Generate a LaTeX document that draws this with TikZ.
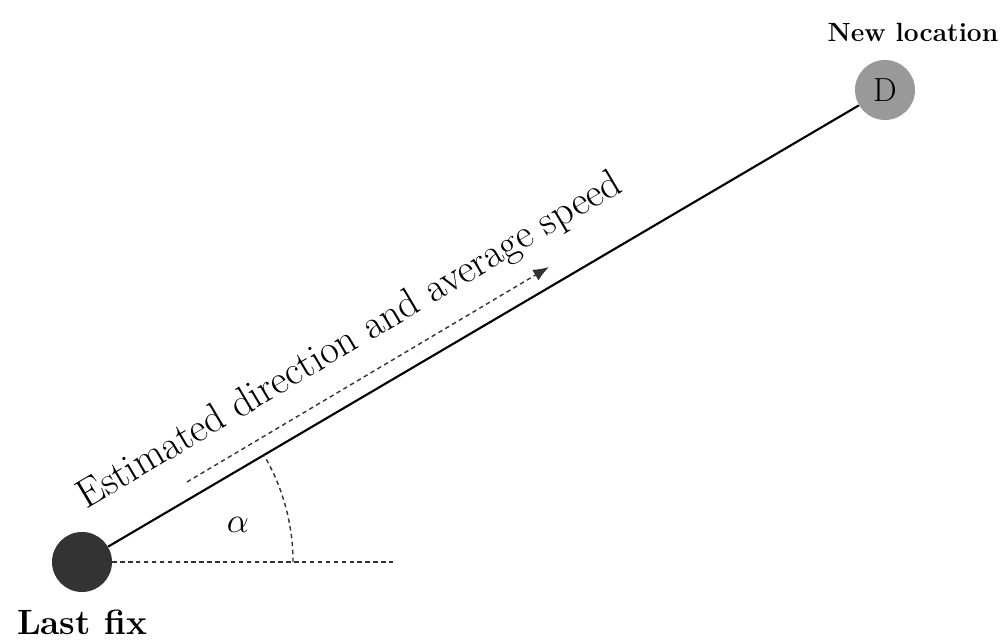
\documentclass[tikz,border=0pt]{standalone}
\usepackage{amsmath,amssymb}
\usepackage{fix-cm}
\usepackage{fontspec}
\usepackage{tikz}
\usetikzlibrary{arrows.meta,calc,positioning}
\usepackage{xcolor}
\definecolor{fixgray}{HTML}{333333}
\definecolor{destgray}{HTML}{999999}

\begin{document}
\begin{tikzpicture}[x=0.02cm,y=0.02cm,
  dot/.style={circle,inner sep=0pt,minimum size=1.2cm},
  lbl/.style={font=\fontsize{20}{24}\selectfont\bfseries,inner sep=0pt},
  hint/.style={dash pattern=on 2.5pt off 2pt,thick,fixgray}]
\useasboundingbox (0,0) rectangle (1005,642);
\node[dot,fill=fixgray] (fix) at (82,80) {};
\node[dot,fill=destgray,font=\fontsize{19}{22}\selectfont] (dest) at (885,552) {D};
\draw[line width=1.2pt] (fix) -- (dest);
\node[lbl,below=10pt of fix] (last) {Last fix};
\node[lbl,font=\fontsize{15}{18}\selectfont\bfseries,above=10pt of dest,xshift=0.56cm] (new) {New location};
\coordinate (ref) at (395,80);
\draw[hint] (fix.east) -- (ref);
\draw[hint] ($(fix)+(211,0)$) arc (0:30.45:211);
\node[font=\fontsize{20}{24}\selectfont] (alpha) at (238,117) {$\alpha$};
\coordinate (from) at (187,160);
\coordinate (to) at (549,375);
\draw[hint,-{Latex[length=9pt,width=7pt]}] (from) -- (to);
\node[anchor=base west,rotate=30.7,inner sep=0pt,font=\fontsize{23}{27}\selectfont] (txt) at (86,132) {Estimated direction and average speed};
\end{tikzpicture}
\end{document}
